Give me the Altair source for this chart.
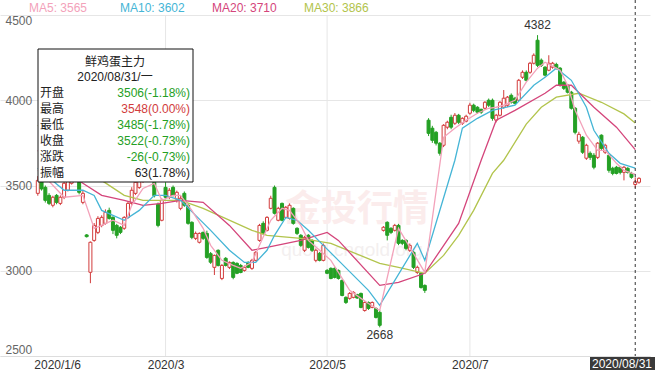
import altair as alt
import pandas as pd
import numpy as np

# ---------------- data ----------------
opens = [3454,3530,3489,3442,3384,3442,3395,3431,3472,3513,3530,3519,3401,3210,2991,3178,3225,3266,3278,3354,
         3313,3266,3255,3249,3313,3395,3454,3489,3530,3560,3600,3519,3390,3296,3489,3431,3489,3420,3366,3454,
         3384,3284,3190,3167,3225,3219,3100,3020,3120,2955,3073,3020,3049,3043,3031,3002,3049,3014,3061,3178,
         3278,3237,3366,3489,3296,3395,3313,3307,3366,3249,3208,3120,3208,3178,3061,3102,3061,3002,3014,3014,
         3002,2943,2844,2838,2844,2860,2867,2767,2814,2785,2779,2756,3237,3284,3249,3237,3266,3178,3178,3120,
         3108,2990,2985,2914,3883,3836,3812,3748,3736,3842,3900,3865,3912,3865,3877,3924,3971,3959,3947,3953,
         4000,4000,3883,3912,3959,3971,4029,4012,4000,4135,4164,4164,4217,4352,4235,4194,4176,4194,4210,4188,
         4106,4088,4047,3953,3760,3783,3660,3689,3677,3665,3795,3695,3677,3601,3607,3607,3577,3601,3571,3506,
         3519]
highs = [3555,3545,3500,3455,3440,3450,3442,3525,3545,3590,3610,3540,3470,3215,3172,3280,3320,3325,3360,3370,
         3320,3275,3262,3320,3405,3490,3535,3570,3610,3625,3615,3560,3400,3425,3519,3485,3500,3470,3440,3465,
         3390,3290,3230,3225,3230,3235,3110,3095,3125,3040,3080,3055,3055,3050,3040,3030,3055,3070,3115,3275,
         3290,3320,3440,3500,3375,3400,3380,3395,3372,3255,3215,3205,3215,3185,3130,3110,3160,3010,3020,3020,
         3008,2950,2850,2875,2880,2865,2872,2820,2820,2820,2785,2770,3262,3290,3255,3275,3275,3185,3185,3160,
         3115,3030,2990,2920,3895,3850,3820,3755,3860,3880,3915,3925,3920,3900,3915,3985,3980,3965,3950,3995,
         4010,4010,3920,3995,4060,4025,4040,4020,4125,4175,4175,4225,4275,4382,4245,4200,4264,4225,4220,4195,
         4112,4095,4055,3960,3815,3790,3745,3700,3690,3755,3800,3745,3690,3610,3615,3612,3615,3607,3580,3548,
         3548]
lows = [3440,3470,3400,3385,3372,3390,3385,3420,3465,3505,3520,3448,3390,3195,2927,3170,3215,3255,3270,3300,
        3215,3190,3215,3240,3305,3385,3445,3480,3515,3545,3540,3430,3255,3290,3420,3420,3435,3400,3355,3375,
        3270,3185,3180,3160,3180,3070,3040,2975,3025,2945,3025,3010,2950,2980,2985,2995,3015,3005,3055,3170,
        3210,3230,3360,3330,3290,3290,3305,3300,3270,3210,3140,3110,3130,3110,3050,3055,3055,2980,2950,2955,
        2948,2850,2805,2830,2838,2835,2780,2760,2770,2780,2720,2668,3230,3178,3215,3230,3150,3150,3120,3110,
        3010,2980,2895,2870,3790,3750,3735,3675,3725,3830,3830,3855,3860,3855,3870,3915,3930,3920,3920,3945,
        3960,3880,3870,3905,3950,3960,3980,3975,3995,4125,4110,4155,4210,4195,4195,4140,4170,4185,4180,4080,
        4060,4040,3945,3800,3745,3685,3650,3650,3595,3655,3705,3685,3575,3560,3565,3565,3530,3570,3540,3485,
        3510]
closes = [3530,3480,3413,3395,3431,3401,3431,3513,3530,3571,3589,3460,3454,3200,3167,3266,3307,3313,3343,3307,
          3237,3208,3225,3313,3395,3472,3519,3542,3580,3600,3555,3440,3266,3413,3431,3472,3442,3460,3425,3384,
          3278,3196,3219,3219,3190,3078,3050,3090,3031,3031,3031,3049,2961,2985,2990,3020,3020,3061,3108,3266,
          3219,3313,3425,3337,3366,3296,3372,3384,3278,3219,3149,3196,3137,3120,3120,3061,3149,2985,2955,2961,
          2955,2855,2814,2867,2873,2840,2785,2814,2779,2814,2726,2680,3255,3208,3225,3266,3161,3161,3131,3149,
          3020,3020,2902,2885,3806,3765,3748,3689,3853,3871,3842,3912,3871,3894,3906,3971,3941,3930,3930,3988,
          3971,3894,3912,3988,4012,4018,3988,3982,4117,4164,4117,4217,4264,4205,4205,4147,4217,4217,4188,4088,
          4070,4047,3953,3812,3800,3695,3736,3665,3607,3748,3718,3736,3589,3571,3571,3577,3607,3577,3548,3522,
          3542]
day_index = list(range(len(opens)))

# moving-average lines (trading-day index, value)
ma5_i = [0,2,7,12,15,17,20,23,25,28,31,33,36,38,41,44,46,49,52,54,57,59,62,65,67,70,72,75,78,80,83,86,88,91,96,103,
         108,111,114,117,120,122,124,127,130,133,135,137,139,141,143,146,149,151,154,156,159]
ma5_v = [3589,3548,3431,3442,3249,3266,3296,3266,3384,3483,3513,3413,3442,3442,3354,3249,3149,3061,3031,3014,3049,3149,
         3296,3366,3354,3266,3178,3120,3061,2990,2885,2838,2808,2767,3249,2990,3783,3836,3883,3924,3953,3959,3971,4000,
         4106,4188,4223,4200,4176,4088,3941,3795,3706,3706,3630,3589,3565]
ma10_i = [0,7,12,15,17,23,27,31,34,38,42,46,51,55,58,61,63,66,69,72,76,80,84,88,91,101,103,111,113,117,121,127,132,
          135,138,142,146,148,152,155,159]
ma10_v = [3601,3472,3472,3442,3354,3296,3354,3442,3442,3413,3325,3237,3120,3049,3049,3120,3208,3313,3296,3237,3149,
          3061,2973,2885,2797,3161,3061,3648,3836,3894,3941,3971,4088,4135,4188,4117,3959,3824,3689,3630,3602]
ma20_i = [0,7,12,17,23,28,33,38,44,51,57,61,70,77,80,91,96,103,112,118,122,127,135,138,142,148,154,159]
ma20_v = [3706,3589,3513,3442,3413,3384,3395,3413,3401,3266,3120,3137,3178,3225,3178,2914,2932,2985,3278,3648,3883,
          3941,4041,4088,4088,3959,3842,3710]
ma30_i = [0,7,12,17,23,28,34,38,44,57,61,70,78,91,96,103,108,112,116,121,124,130,134,138,144,150,156,159]
ma30_v = [3853,3736,3648,3530,3442,3413,3413,3413,3366,3237,3208,3190,3161,3043,3020,2985,3090,3208,3354,3571,3648,
          3860,3959,4018,4041,3988,3920,3866]

ma_names = ["MA5", "MA10", "MA20", "MA30"]
ma_last = [3565, 3602, 3710, 3866]

xtick_idx = [0, 34, 77, 115]
xtick_labels = ["2020/1/6", "2020/3", "2020/5", "2020/7"]
ytick_vals = [2500, 3000, 3500, 4000, 4500]

info_title = "鲜鸡蛋主力"
info_date = "2020/08/31/一"
info_labels = ["开盘", "最高", "最低", "收盘", "涨跌", "振幅"]
info_values = ["3506(-1.18%)", "3548(0.00%)", "3485(-1.78%)", "3522(-0.73%)", "-26(-0.73%)", "63(1.78%)"]
cross_idx = 159
cross_label = "2020/08/31"
peak_idx, peak_val = 133, 4382
low_idx, low_val = 91, 2668
watermark_texts = ["金投行情", "quote.cngold.org"]

# ---------------- styling ----------------
RED = "#d23c3c"
GREEN = "#24a024"
MA_COLORS = {"MA5": "#f3a2ba", "MA10": "#45b5d6", "MA20": "#d4457b", "MA30": "#b2c44c"}
INFO_COLORS = [GREEN, RED, GREEN, GREEN, GREEN, "#222222"]
NUMF = "Liberation Sans, Noto Sans CJK SC"
W, H = 650, 341

cd = pd.DataFrame({"i": day_index, "o": opens, "h": highs, "l": lows, "c": closes})
up = cd["c"] >= cd["o"]
cd["stroke"] = np.where(up, RED, GREEN)
cd["fill"] = np.where(up, "#ffffff", GREEN)

ma_frames = []
for name, ii, vv in [("MA30", ma30_i, ma30_v), ("MA20", ma20_i, ma20_v),
                     ("MA10", ma10_i, ma10_v), ("MA5", ma5_i, ma5_v)]:
    ma_frames.append(pd.DataFrame({"i": ii, "v": vv, "name": name, "col": MA_COLORS[name]}))
ma_df = pd.concat(ma_frames, ignore_index=True)

xscale = alt.Scale(domain=[-8.73, 161.6], nice=False, zero=False)
yscale = alt.Scale(domain=[2500, 4500], nice=False, zero=False)

label_map = " : ".join([f"datum.value == {v} ? '{t}'" for v, t in zip(xtick_idx, xtick_labels)]) + " : ''"
xaxis = alt.Axis(values=xtick_idx, labelExpr=label_map, grid=False, ticks=False, domain=True,
                 domainColor="#dddddd", labelFlush=40, labelPadding=3,
                 labelOffset={"condition": {"test": f"datum.value == {xtick_idx[0]}", "value": -4}, "value": 0},
                 labelFont=NUMF, labelFontSize=12, labelColor="#333333", title=None)
yaxis = alt.Axis(values=ytick_vals, format="d", grid=True, gridColor="#e6e6e6", ticks=False, tickSize=0,
                 domain=False, labelAlign="left", labelPadding=-5, labelFlush=True, labelFont=NUMF,
                 labelFontSize=12, labelColor="#666666", title=None)

X = alt.X("i:Q", scale=xscale, axis=xaxis)

# vertical grid lines at the month ticks
vgrid = alt.Chart(pd.DataFrame({"i": xtick_idx[1:]})).mark_rule(color="#e6e6e6", strokeWidth=1).encode(
    x=X, y=alt.value(0), y2=alt.value(H))

# faint watermark
water1 = alt.Chart(pd.DataFrame({"t": [watermark_texts[0]]})).mark_text(
    font="Noto Sans CJK SC", fontSize=36, fontWeight="bold", color="#fbecec").encode(
    x=alt.value(357), y=alt.value(195), text="t:N")
water2 = alt.Chart(pd.DataFrame({"t": [watermark_texts[1]]})).mark_text(
    font="Liberation Sans", fontSize=19, color="#f3efef").encode(
    x=alt.value(352), y=alt.value(235), text="t:N")

base = alt.Chart(cd)
wicks = base.mark_rule(strokeWidth=1).encode(
    x=X, y=alt.Y("l:Q", scale=yscale, axis=yaxis), y2="h:Q",
    color=alt.Color("stroke:N", scale=None))
bodies = base.mark_bar(size=3, strokeWidth=1).encode(
    x=X, y=alt.Y("o:Q", scale=yscale, axis=yaxis), y2="c:Q",
    fill=alt.Fill("fill:N", scale=None), stroke=alt.Stroke("stroke:N", scale=None))

lines = alt.Chart(ma_df).mark_line(strokeWidth=1.3).encode(
    x=X, y=alt.Y("v:Q", scale=yscale, axis=yaxis),
    color=alt.Color("col:N", scale=None), detail="name:N")

ann = pd.DataFrame({"i": [peak_idx, low_idx], "v": [peak_val, low_val],
                    "t": [str(peak_val), str(low_val)]})
ann_top = alt.Chart(ann.iloc[[0]]).mark_text(baseline="bottom", dy=-3, font=NUMF, fontSize=12, color="#333333").encode(
    x=X, y=alt.Y("v:Q", scale=yscale, axis=yaxis), text="t:N")
ann_bot = alt.Chart(ann.iloc[[1]]).mark_text(baseline="top", dy=3, font=NUMF, fontSize=12, color="#333333").encode(
    x=X, y=alt.Y("v:Q", scale=yscale, axis=yaxis), text="t:N")

# info box
box = alt.Chart(pd.DataFrame({"a": [0]})).mark_rect(fill="white", stroke="#111111", strokeWidth=1).encode(
    x=alt.value(38), x2=alt.value(193), y=alt.value(34), y2=alt.value(167))
head = pd.DataFrame({"px": [115, 115], "py": [47, 62], "t": [info_title, info_date]})
info_head = alt.Chart(head).mark_text(font=NUMF, fontSize=12, color="#222222").encode(
    x=alt.X("px:Q", scale=None), y=alt.Y("py:Q", scale=None), text="t:N")
rows = pd.DataFrame({"r": range(len(info_labels)), "lab": info_labels, "val": info_values, "col": INFO_COLORS})
rows["py"] = 78 + 16 * rows["r"]
info_lab = alt.Chart(rows).mark_text(align="left", font="Noto Sans CJK SC", fontSize=12, color="#222222").encode(
    x=alt.value(40), y=alt.Y("py:Q", scale=None), text="lab:N")
info_val = alt.Chart(rows).mark_text(align="right", font=NUMF, fontSize=12).encode(
    x=alt.value(190), y=alt.Y("py:Q", scale=None), text="val:N", color=alt.Color("col:N", scale=None))

# top MA legend
leg = pd.DataFrame({"t": [f"{n}: {v}" for n, v in zip(ma_names, ma_last)],
                    "px": [29, 120, 212, 304], "col": [MA_COLORS[n] for n in ma_names]})
legend = alt.Chart(leg).mark_text(align="left", font=NUMF, fontSize=12).encode(
    x=alt.X("px:Q", scale=None), y=alt.value(-7), text="t:N", color=alt.Color("col:N", scale=None))

# crosshair + date box
cross = alt.Chart(pd.DataFrame({"i": [cross_idx]})).mark_rule(color="#333333", strokeDash=[3, 3], strokeWidth=1).encode(
    x=X, y=alt.value(-15), y2=alt.value(H))
dbox = alt.Chart(pd.DataFrame({"a": [0]})).mark_rect(fill="#3a3a3a").encode(
    x=alt.value(590), x2=alt.value(655), y=alt.value(H + 1), y2=alt.value(H + 15))
dtext = alt.Chart(pd.DataFrame({"t": [cross_label]})).mark_text(font=NUMF, fontSize=12, color="white").encode(
    x=alt.value(622), y=alt.value(H + 8), text="t:N")

chart = alt.layer(vgrid, water1, water2, wicks, bodies, lines, ann_top, ann_bot,
                  box, info_head, info_lab, info_val, legend, cross, dbox, dtext).properties(
    width=W, height=H,
    padding={"left": 0, "top": 15, "right": 5, "bottom": 14},
    autosize=alt.AutoSizeParams(type="none"),
).configure_view(stroke=None)

chart.save("out.html", embed_options={"renderer": "svg", "actions": False})
